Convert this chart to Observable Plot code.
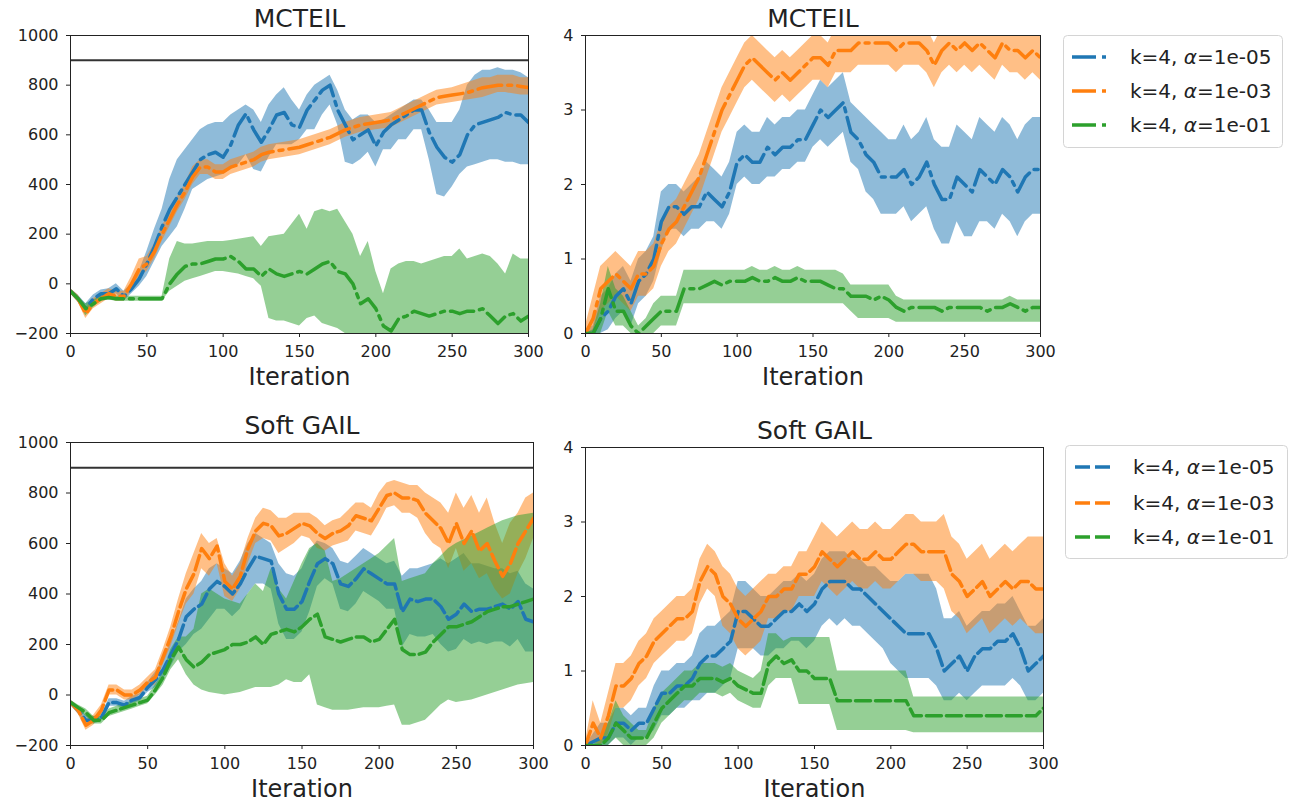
<!DOCTYPE html>
<html>
<head>
<meta charset="utf-8">
<script src="https://cdn.jsdelivr.net/npm/d3@7"></script>
<script src="https://cdn.jsdelivr.net/npm/@observablehq/plot@0.6"></script>
<style>
  body { margin: 0; background: #fff; }
  #root { position: relative; width: 1292px; height: 806px; overflow: hidden; background: #fff; font-family: "DejaVu Sans", sans-serif; }
  .pane { position: absolute; }
</style>
</head>
<body>
<div id="root"></div>
<script>
// ---------- shared ----------
const iters = [0,5,10,15,20,25,30,35,40,45,
  50,55,60,65,70,75,80,85,90,95,
  100,105,110,115,120,125,130,135,140,145,
  150,155,160,165,170,175,180,185,190,195,
  200,205,210,215,220,225,230,235,240,245,
  250,255,260,265,270,275,280,285,290,295,
  300];
const xTicks = [0,50,100,150,200,250,300];
const seriesLabels = ["1e-05","1e-03","1e-01"];
const colors = ["#1f77b4","#ff7f0e","#2ca02c"];
const rewardTicks = [-200,0,200,400,600,800,1000];
const countTicks = [0,1,2,3,4];
const expertReward = [900];

// ---------- MCTEIL, reward (top-left) ----------
const tlBlue = [-30,-60,-100,-60,-40,-40,-20,-50,-20,20,
  80,150,230,300,350,400,450,500,520,530,
  510,560,640,685,620,570,620,680,690,640,
  630,700,740,780,800,700,640,580,600,620,
  555,610,640,660,680,700,700,610,550,510,
  490,520,600,640,650,660,670,690,680,680,
  650];
const tlBlueHi = [-20,-45,-80,-45,-25,-20,0,-30,0,50,
  130,220,300,420,500,540,580,620,640,650,
  650,680,700,720,700,650,720,760,790,740,
  700,760,800,820,840,780,700,660,680,680,
  650,660,680,700,720,740,740,700,650,650,
  650,700,800,840,860,860,870,860,860,850,
  830];
const tlBlueLo = [-40,-75,-120,-75,-55,-60,-40,-70,-40,-10,
  30,90,150,190,230,300,380,400,420,430,
  440,460,480,520,460,450,510,560,560,560,
  580,620,620,680,720,640,490,480,500,530,
  470,540,540,580,580,620,620,500,360,350,
  390,440,470,480,490,500,500,490,490,480,
  480];
const tlOrange = [-30,-60,-120,-80,-60,-40,-50,-50,0,60,
  80,130,200,260,320,370,430,470,470,450,
  450,470,480,490,500,520,530,535,540,545,
  550,560,570,580,590,605,620,630,640,645,
  650,655,660,675,690,705,720,735,750,755,
  760,765,770,780,790,795,800,800,800,795,
  790];
const tlOrangeHi = [-20,-45,-100,-60,-40,-20,-30,-30,30,100,
  110,160,230,290,350,400,470,500,500,480,
  480,500,510,520,530,550,560,565,570,575,
  580,590,600,610,620,635,650,660,670,675,
  680,685,690,705,720,735,750,765,780,785,
  790,800,810,820,830,830,840,840,840,830,
  830];
const tlOrangeLo = [-40,-75,-140,-100,-80,-60,-70,-70,-30,30,
  50,100,170,230,290,340,400,440,440,420,
  420,440,450,460,470,490,500,505,510,515,
  520,530,540,550,560,575,590,600,610,615,
  620,625,630,645,660,675,690,705,720,725,
  730,735,740,745,750,760,770,770,765,760,
  760];
const tlGreen = [-30,-60,-100,-80,-60,-55,-60,-60,-60,-60,
  -60,-60,-60,0,40,70,80,80,90,100,
  100,110,90,60,60,30,60,40,30,40,
  50,40,60,80,90,50,40,0,-80,-60,
  -100,-170,-190,-140,-130,-110,-120,-130,-120,-110,
  -110,-120,-110,-110,-100,-130,-160,-130,-120,-150,
  -130];
const tlGreenHi = [-20,-50,-80,-65,-50,-45,-50,-50,-50,-50,
  -50,-50,-50,100,170,160,160,165,170,170,
  170,175,180,185,190,150,190,195,200,240,
  280,220,290,300,290,300,250,200,110,170,
  50,-40,60,80,90,90,80,90,100,110,
  110,140,100,110,120,110,80,40,120,100,
  100];
const tlGreenLo = [-40,-70,-130,-95,-70,-65,-70,-70,-70,-70,
  -70,-70,-70,-30,-10,10,20,30,40,50,
  50,45,40,30,20,-10,-140,-150,-150,-160,
  -170,-140,-130,-160,-170,-180,-200,-230,-250,-250,
  -250,-250,-250,-250,-250,-250,-250,-250,-250,-250,
  -250,-250,-250,-250,-250,-250,-250,-250,-250,-250,
  -250];

// ---------- MCTEIL, count (top-right) ----------
const trBlue = [0,0,0.2,0.3,0.5,0.6,0.4,0.7,0.8,1.0,
  1.5,1.7,1.7,1.6,1.7,1.7,1.9,1.8,1.7,1.9,
  2.3,2.4,2.3,2.3,2.5,2.4,2.5,2.5,2.6,2.6,
  2.8,3.0,2.9,3.0,3.1,2.7,2.6,2.4,2.3,2.1,
  2.1,2.1,2.2,2.0,2.1,2.3,2.0,1.8,1.8,2.1,
  2.0,1.9,2.2,2.1,2.0,2.2,2.1,1.9,2.1,2.2,
  2.2];
const trBlueHi = [0.05,0.1,0.5,0.6,0.8,0.9,0.7,1.0,1.1,1.3,
  1.9,2.0,2.0,1.9,2.0,2.1,2.3,2.2,2.1,2.3,
  2.7,2.8,2.7,2.7,2.9,2.8,2.9,2.9,3.0,3.0,
  3.2,3.4,3.3,3.4,3.5,3.1,3.0,2.9,2.8,2.7,
  2.6,2.6,2.8,2.6,2.7,2.9,2.6,2.5,2.5,2.8,
  2.7,2.6,2.9,2.8,2.7,2.9,2.8,2.6,2.8,2.9,
  2.9];
const trBlueLo = [0,0,0,0.05,0.2,0.3,0.1,0.4,0.5,0.7,
  1.1,1.4,1.4,1.3,1.4,1.4,1.5,1.5,1.4,1.6,
  2.0,2.1,2.0,2.0,2.1,2.1,2.2,2.2,2.3,2.3,
  2.5,2.6,2.5,2.6,2.7,2.3,2.2,1.9,1.8,1.6,
  1.6,1.6,1.7,1.5,1.6,1.7,1.4,1.2,1.2,1.5,
  1.3,1.3,1.5,1.5,1.4,1.6,1.5,1.3,1.5,1.6,
  1.6];
const trOrange = [0,0.2,0.6,0.7,0.8,0.7,0.6,0.8,0.8,0.9,
  1.2,1.4,1.5,1.7,1.9,2.1,2.4,2.7,3.0,3.2,
  3.4,3.6,3.7,3.6,3.5,3.4,3.5,3.4,3.5,3.6,
  3.7,3.7,3.6,3.8,3.8,3.8,3.9,3.9,3.9,3.9,
  3.9,3.8,3.9,3.9,3.9,3.8,3.6,3.8,3.9,3.8,
  3.9,3.8,3.9,3.8,3.7,3.9,3.8,3.8,3.7,3.8,
  3.7];
const trOrangeHi = [0.1,0.5,0.9,1.0,1.1,1.0,0.9,1.1,1.1,1.2,
  1.5,1.7,1.8,2.0,2.2,2.4,2.7,3.0,3.3,3.5,
  3.7,3.9,4.0,3.9,3.8,3.7,3.8,3.7,3.8,3.9,
  4.0,4.0,3.9,4.1,4.1,4.1,4.2,4.2,4.2,4.2,
  4.2,4.1,4.2,4.2,4.2,4.1,3.9,4.1,4.2,4.1,
  4.2,4.1,4.2,4.1,4.0,4.2,4.1,4.1,4.0,4.1,
  4.0];
const trOrangeLo = [0,0,0.3,0.4,0.5,0.4,0.3,0.5,0.5,0.6,
  0.9,1.1,1.2,1.4,1.6,1.8,2.1,2.4,2.7,2.9,
  3.1,3.3,3.4,3.3,3.2,3.1,3.2,3.1,3.2,3.3,
  3.4,3.4,3.3,3.5,3.5,3.5,3.6,3.6,3.6,3.6,
  3.6,3.5,3.6,3.6,3.6,3.5,3.3,3.5,3.6,3.5,
  3.6,3.5,3.6,3.5,3.4,3.6,3.5,3.5,3.4,3.5,
  3.4];
const trGreen = [0,0,0.2,0.6,0.3,0.3,0.1,0,0.1,0.2,
  0.3,0.3,0.3,0.6,0.6,0.6,0.65,0.7,0.65,0.7,
  0.7,0.7,0.75,0.7,0.7,0.75,0.7,0.7,0.75,0.7,
  0.7,0.7,0.65,0.6,0.6,0.5,0.5,0.5,0.45,0.5,
  0.45,0.35,0.3,0.35,0.35,0.35,0.35,0.3,0.35,0.35,
  0.35,0.35,0.35,0.3,0.35,0.35,0.4,0.35,0.3,0.35,
  0.35];
const trGreenHi = [0,0.05,0.4,0.9,0.6,0.5,0.3,0.1,0.2,0.4,
  0.5,0.5,0.5,0.85,0.85,0.85,0.85,0.85,0.85,0.85,
  0.85,0.85,0.9,0.85,0.85,0.9,0.85,0.85,0.9,0.85,
  0.85,0.85,0.85,0.85,0.8,0.65,0.65,0.65,0.65,0.65,
  0.65,0.5,0.45,0.45,0.45,0.45,0.45,0.45,0.45,0.45,
  0.45,0.45,0.45,0.45,0.45,0.45,0.5,0.45,0.45,0.45,
  0.45];
const trGreenLo = [0,0,0,0.3,0.1,0.1,0,0,0,0,
  0.1,0.1,0.1,0.4,0.4,0.4,0.4,0.4,0.4,0.4,
  0.4,0.4,0.4,0.4,0.4,0.4,0.4,0.4,0.4,0.4,
  0.4,0.4,0.4,0.4,0.4,0.3,0.2,0.2,0.2,0.2,
  0.2,0.15,0.15,0.15,0.15,0.15,0.15,0.15,0.15,0.15,
  0.15,0.15,0.15,0.15,0.15,0.15,0.15,0.15,0.15,0.15,
  0.15];

// ---------- Soft GAIL, reward (bottom-left) ----------
const blBlue = [-30,-60,-100,-100,-90,-30,-30,-40,-20,-10,
  30,60,100,160,220,310,340,360,420,450,
  430,400,440,500,550,540,530,400,340,340,
  370,450,520,540,520,440,430,460,500,480,
  460,440,440,330,380,370,380,380,350,300,
  320,360,330,340,340,350,360,340,370,300,
  290];
const blBlueHi = [-20,-45,-80,-85,-75,-15,-15,-25,-5,5,
  50,90,140,210,290,380,420,450,500,520,
  500,480,530,600,640,620,600,520,480,470,
  500,570,610,600,580,530,520,550,580,560,
  540,520,530,470,500,500,510,520,540,520,
  540,560,520,520,510,500,500,480,490,440,
  420];
const blBlueLo = [-40,-75,-120,-115,-105,-45,-45,-55,-35,-25,
  10,30,60,110,170,200,240,260,300,340,
  340,310,340,400,440,440,420,280,220,220,
  250,330,430,460,440,340,330,360,410,390,
  370,340,340,190,240,230,230,240,200,170,
  180,220,200,210,200,210,210,190,220,170,
  170];
const blOrange = [-30,-60,-120,-100,-60,20,20,0,0,20,
  50,70,150,230,330,420,480,580,540,590,
  450,420,470,580,650,680,670,630,640,660,
  680,670,640,620,640,650,670,710,700,690,
  740,790,800,780,780,770,720,690,660,600,
  680,600,650,570,600,530,470,520,600,650,
  700];
const blOrangeHi = [-20,-45,-100,-80,-40,40,40,20,20,40,
  70,100,180,270,380,480,560,640,600,620,
  520,470,520,620,700,740,730,700,700,720,
  720,720,700,670,690,700,730,760,760,740,
  800,840,850,840,830,830,800,780,760,720,
  800,740,790,720,780,680,600,680,720,780,
  800];
const blOrangeLo = [-40,-75,-140,-120,-80,0,0,-20,-20,0,
  30,40,120,190,280,360,400,500,470,520,
  390,370,420,520,600,620,610,560,580,600,
  630,620,580,570,590,600,610,650,640,630,
  680,740,750,720,720,700,640,600,580,500,
  580,490,520,460,480,420,380,400,480,540,
  620];
const blGreen = [-30,-50,-70,-100,-100,-70,-60,-50,-40,-30,
  -20,20,70,140,190,140,110,130,160,170,
  180,200,200,210,230,200,240,250,260,250,
  270,300,320,230,220,210,220,230,230,210,
  220,260,300,180,160,160,170,210,240,270,
  270,280,290,310,330,340,350,350,360,370,
  380];
const blGreenHi = [-20,-40,-55,-85,-85,-55,-45,-35,-25,-15,
  -5,40,90,180,230,230,260,400,420,400,
  380,370,360,400,440,410,500,420,380,450,
  520,580,600,570,450,460,480,500,520,540,
  560,590,620,450,460,470,480,520,550,580,
  600,615,630,645,660,675,690,700,710,715,
  720];
const blGreenLo = [-40,-60,-85,-115,-115,-85,-75,-65,-55,-45,
  -35,0,40,100,140,80,40,20,10,5,
  0,5,10,20,30,30,30,40,60,50,
  50,80,-40,-50,-60,-60,-60,-55,-50,-50,
  -50,-45,-40,-120,-120,-110,-100,-70,-40,-20,
  -30,-25,-20,-10,0,10,20,30,40,45,
  50];

// ---------- Soft GAIL, count (bottom-right) ----------
const brBlue = [0,0.05,0.1,0.1,0.3,0.3,0.2,0.3,0.3,0.5,
  0.7,0.7,0.8,0.8,0.9,1.1,1.2,1.2,1.3,1.4,
  1.8,1.8,1.7,1.6,1.6,1.7,1.8,1.8,1.9,1.8,
  1.9,2.1,2.2,2.2,2.2,2.1,2.1,2.0,1.9,1.8,
  1.7,1.6,1.5,1.5,1.5,1.5,1.3,1.0,1.1,1.2,
  1.0,1.2,1.3,1.3,1.4,1.4,1.5,1.3,1.0,1.1,
  1.2];
const brBlueHi = [0,0.15,0.3,0.3,0.5,0.5,0.4,0.5,0.5,0.8,
  1.0,1.0,1.1,1.1,1.2,1.5,1.6,1.6,1.7,1.8,
  2.2,2.2,2.1,2.0,2.0,2.1,2.2,2.2,2.3,2.2,
  2.3,2.5,2.6,2.6,2.6,2.5,2.5,2.4,2.4,2.3,
  2.2,2.2,2.3,2.3,2.3,2.3,2.1,1.7,1.7,1.8,
  1.6,1.7,1.8,1.8,1.9,1.9,2.0,1.8,1.6,1.6,
  1.7];
const brBlueLo = [0,0,0,0,0.1,0.1,0,0.1,0.1,0.2,
  0.4,0.4,0.5,0.5,0.6,0.6,0.7,0.7,0.8,0.9,
  1.3,1.3,1.3,1.2,1.2,1.3,1.3,1.4,1.4,1.3,
  1.4,1.6,1.7,1.6,1.7,1.6,1.6,1.5,1.4,1.3,
  1.1,1.0,0.9,0.9,0.9,0.9,0.8,0.6,0.6,0.7,
  0.6,0.7,0.8,0.8,0.8,0.8,0.9,0.8,0.6,0.6,
  0.7];
const brOrange = [0,0.3,0.1,0.4,0.8,0.8,0.9,1.1,1.2,1.4,
  1.5,1.6,1.7,1.7,1.8,2.2,2.4,2.3,2.0,1.9,
  1.7,1.6,1.7,1.8,2.0,2.0,2.1,2.1,2.3,2.3,
  2.4,2.6,2.5,2.4,2.5,2.6,2.5,2.5,2.6,2.5,
  2.5,2.6,2.7,2.7,2.6,2.6,2.6,2.6,2.3,2.2,
  2.0,2.1,2.2,2.0,2.1,2.2,2.1,2.2,2.2,2.1,
  2.1];
const brOrangeHi = [0.05,0.6,0.3,0.7,1.1,1.1,1.2,1.4,1.5,1.7,
  1.8,1.9,2.0,2.0,2.1,2.5,2.7,2.6,2.4,2.3,
  2.1,2.0,2.1,2.2,2.3,2.3,2.4,2.4,2.6,2.6,
  2.8,3.0,2.9,2.8,2.9,3.0,2.9,2.9,3.0,2.9,
  2.9,3.0,3.1,3.1,3.0,3.0,3.0,3.1,2.8,2.7,
  2.5,2.6,2.7,2.5,2.6,2.7,2.6,2.7,2.8,2.8,
  2.8];
const brOrangeLo = [0,0.05,0,0.15,0.5,0.5,0.6,0.8,0.9,1.1,
  1.2,1.3,1.4,1.4,1.5,1.9,2.1,2.0,1.6,1.5,
  1.3,1.2,1.3,1.4,1.7,1.7,1.8,1.8,2.0,2.0,
  2.0,2.2,2.1,2.0,2.1,2.2,2.1,2.1,2.2,2.1,
  2.1,2.2,2.3,2.3,2.2,2.2,2.2,2.1,1.8,1.7,
  1.5,1.6,1.7,1.5,1.6,1.7,1.6,1.7,1.6,1.5,
  1.5];
const brGreen = [0,0,0,0.1,0.3,0.2,0.1,0.1,0.1,0.3,
  0.5,0.6,0.7,0.8,0.8,0.9,0.9,0.9,0.85,0.9,
  0.8,0.75,0.7,0.7,1.1,1.2,1.1,1.15,1.0,1.0,
  0.9,0.9,0.9,0.6,0.6,0.6,0.6,0.6,0.6,0.6,
  0.6,0.6,0.6,0.4,0.4,0.4,0.4,0.4,0.4,0.4,
  0.4,0.4,0.4,0.4,0.4,0.4,0.4,0.4,0.4,0.4,
  0.5];
const brGreenHi = [0,0,0.1,0.3,0.6,0.4,0.3,0.2,0.2,0.5,
  0.7,0.8,0.9,1.0,1.0,1.1,1.1,1.1,1.05,1.1,
  1.0,0.95,0.9,1.0,1.5,1.5,1.4,1.45,1.45,1.45,
  1.45,1.45,1.45,1.0,1.0,1.0,1.0,1.0,1.0,1.0,
  1.0,1.0,1.0,0.65,0.65,0.65,0.65,0.65,0.65,0.65,
  0.65,0.65,0.65,0.65,0.65,0.65,0.65,0.65,0.65,0.65,
  0.65];
const brGreenLo = [0,0,0,0,0.1,0,0,0,0,0.1,
  0.3,0.4,0.5,0.6,0.6,0.7,0.7,0.7,0.65,0.7,
  0.6,0.55,0.5,0.5,0.8,0.9,0.9,0.9,0.55,0.55,
  0.55,0.55,0.55,0.2,0.2,0.2,0.2,0.2,0.2,0.2,
  0.2,0.2,0.2,0.17,0.17,0.17,0.17,0.17,0.17,0.17,
  0.17,0.17,0.17,0.17,0.17,0.17,0.17,0.17,0.17,0.17,
  0.17];

// ---------- build ----------
const rows = (m, lo, hi) => iters.map((x, i) => ({x, y: m[i], lo: lo[i], hi: hi[i]}));
const fmt = d => d < 0 ? "\u2212" + (-d) : String(d);
const DASHDOT = "24,6,4,6";
const DASHED = "15,5";

function panel(o) {
  const series = o.series.map((s, i) => ({data: rows(...s), color: colors[i]}));
  const marks = [];
  series.forEach(s => marks.push(Plot.areaY(s.data, {x: "x", y1: "lo", y2: "hi", fill: s.color, fillOpacity: 0.5, clip: true})));
  if (o.ref) marks.push(Plot.ruleY(expertReward, {stroke: "#333", strokeWidth: 2}));
  series.forEach(s => marks.push(Plot.lineY(s.data, {x: "x", y: "y", stroke: s.color, strokeWidth: 3.5, strokeDasharray: o.dash, clip: true})));
  marks.push(Plot.frame({stroke: "#222", strokeWidth: 1}));
  marks.push(Plot.axisX({ticks: xTicks, tickSize: 4, tickPadding: 8, label: null, tickFormat: fmt}));
  marks.push(Plot.axisY({ticks: o.yticks, tickSize: 4, tickPadding: 8, label: null, tickFormat: fmt}));
  marks.push(Plot.text([o.title], {frameAnchor: "top", lineAnchor: "middle", dy: -17, fontSize: 25}));
  marks.push(Plot.text(["Iteration"], {frameAnchor: "bottom", lineAnchor: "middle", dy: 44, fontSize: 24}));
  const svg = Plot.plot({
    width: o.width, height: o.height,
    marginLeft: o.ml, marginRight: o.mr, marginTop: o.mt, marginBottom: o.mb,
    style: {fontFamily: "DejaVu Sans, sans-serif", fontSize: "16px", color: "#222", background: "transparent", overflow: "visible"},
    x: {domain: [0, 300]},
    y: {domain: o.ydomain},
    marks
  });
  const div = document.createElement("div");
  div.className = "pane";
  div.style.left = o.left + "px";
  div.style.top = o.top + "px";
  div.appendChild(svg);
  document.getElementById("root").appendChild(div);
}

panel({left: 0, top: 0, width: 540, height: 395, ml: 70, mr: 12, mt: 35, mb: 62,
  ydomain: [-200, 1000], yticks: rewardTicks, title: "MCTEIL", dash: DASHDOT, ref: true,
  series: [[tlBlue, tlBlueLo, tlBlueHi], [tlOrange, tlOrangeLo, tlOrangeHi], [tlGreen, tlGreenLo, tlGreenHi]]});
panel({left: 545, top: 0, width: 505, height: 395, ml: 40, mr: 10, mt: 35, mb: 62,
  ydomain: [0, 4], yticks: countTicks, title: "MCTEIL", dash: DASHDOT, ref: false,
  series: [[trBlue, trBlueLo, trBlueHi], [trOrange, trOrangeLo, trOrangeHi], [trGreen, trGreenLo, trGreenHi]]});
panel({left: 0, top: 405, width: 545, height: 400, ml: 70, mr: 12, mt: 37, mb: 60,
  ydomain: [-200, 1000], yticks: rewardTicks, title: "Soft GAIL", dash: DASHED, ref: true,
  series: [[blBlue, blBlueLo, blBlueHi], [blOrange, blOrangeLo, blOrangeHi], [blGreen, blGreenLo, blGreenHi]]});
panel({left: 545, top: 405, width: 505, height: 400, ml: 40, mr: 7, mt: 42, mb: 60,
  ydomain: [0, 4], yticks: countTicks, title: "Soft GAIL", dash: DASHED, ref: false,
  series: [[brBlue, brBlueLo, brBlueHi], [brOrange, brOrangeLo, brOrangeHi], [brGreen, brGreenLo, brGreenHi]]});

// ---------- legends ----------
function legend(left, top, w, h, ys, dash, x0, x1, tx) {
  const NS = "http://www.w3.org/2000/svg";
  const svg = document.createElementNS(NS, "svg");
  svg.setAttribute("width", w); svg.setAttribute("height", h);
  svg.style.position = "absolute"; svg.style.left = left + "px"; svg.style.top = top + "px";
  const rect = document.createElementNS(NS, "rect");
  rect.setAttribute("x", 0.5); rect.setAttribute("y", 0.5);
  rect.setAttribute("width", w - 1); rect.setAttribute("height", h - 1);
  rect.setAttribute("rx", 4); rect.setAttribute("fill", "#fff");
  rect.setAttribute("stroke", "#d4d4d4");
  svg.appendChild(rect);
  seriesLabels.forEach((lab, i) => {
    const ln = document.createElementNS(NS, "line");
    ln.setAttribute("x1", x0); ln.setAttribute("x2", x1);
    ln.setAttribute("y1", ys[i]); ln.setAttribute("y2", ys[i]);
    ln.setAttribute("stroke", colors[i]); ln.setAttribute("stroke-width", 3.5);
    ln.setAttribute("stroke-dasharray", dash);
    svg.appendChild(ln);
    const t = document.createElementNS(NS, "text");
    t.setAttribute("x", tx); t.setAttribute("y", ys[i]);
    t.setAttribute("dy", "0.35em");
    t.setAttribute("font-family", "DejaVu Sans, sans-serif");
    t.setAttribute("font-size", 20);
    t.setAttribute("fill", "#222");
    t.innerHTML = 'k=4, <tspan font-style="italic">\u03b1</tspan>=' + lab;
    svg.appendChild(t);
  });
  document.getElementById("root").appendChild(svg);
}
legend(1063, 35, 220, 113, [22, 56, 90], DASHDOT, 9, 47, 67);
legend(1065, 445, 223, 114, [22, 58, 92], DASHED, 10, 47, 68);
</script>
</body>
</html>
